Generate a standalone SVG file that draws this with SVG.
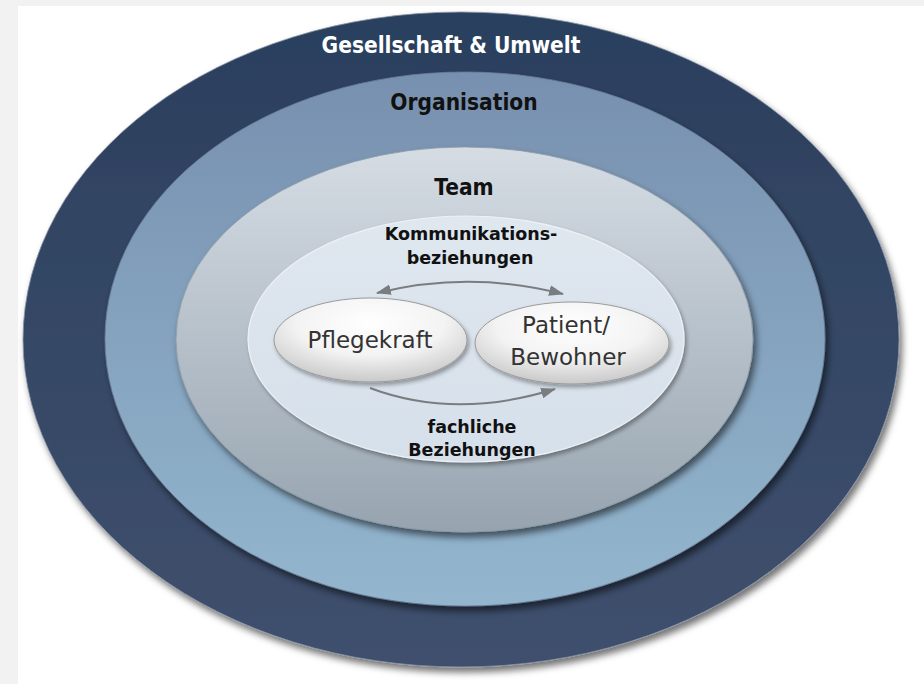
<svg xmlns="http://www.w3.org/2000/svg" width="924" height="684" viewBox="0 0 924 684">
  <defs>
    <style>
      .lbl { font-family: "DejaVu Sans Condensed", "DejaVu Sans", sans-serif; font-weight: bold; font-stretch: condensed; text-anchor: middle; }
      .rel { font-family: "DejaVu Sans", Verdana, sans-serif; font-weight: bold; font-size: 17.5px; fill: #111; text-anchor: middle; }
      .node { font-family: "DejaVu Sans", Verdana, sans-serif; font-size: 23px; fill: #333; text-anchor: middle; }
      .conn { fill: none; stroke: #7a7d80; stroke-width: 2; }
    </style>
    <linearGradient id="gOuter" x1="0" y1="0" x2="0" y2="1">
      <stop offset="0" stop-color="#2b3f5e"/>
      <stop offset="1" stop-color="#3f506d"/>
    </linearGradient>
    <linearGradient id="gOrg" x1="0" y1="0" x2="0" y2="1">
      <stop offset="0" stop-color="#7790af"/>
      <stop offset="1" stop-color="#93b6ce"/>
    </linearGradient>
    <linearGradient id="gTeam" x1="0" y1="0" x2="0" y2="1">
      <stop offset="0" stop-color="#d5dce4"/>
      <stop offset="1" stop-color="#97a4af"/>
    </linearGradient>
    <linearGradient id="gInner" x1="0" y1="0" x2="0" y2="1">
      <stop offset="0" stop-color="#dfe7ef"/>
      <stop offset="1" stop-color="#d6e0ea"/>
    </linearGradient>
    <radialGradient id="gNode" cx="0.5" cy="0.3" r="0.7">
      <stop offset="0" stop-color="#ffffff"/>
      <stop offset="0.55" stop-color="#f3f3f3"/>
      <stop offset="1" stop-color="#c9c9c9"/>
    </radialGradient>
    <filter id="shadow" x="-10%" y="-10%" width="125%" height="125%">
      <feDropShadow dx="3" dy="5" stdDeviation="3.5" flood-color="#000" flood-opacity="0.55"/>
    </filter>
    <filter id="shadowS" x="-10%" y="-10%" width="125%" height="130%">
      <feDropShadow dx="2" dy="3" stdDeviation="2" flood-color="#000" flood-opacity="0.35"/>
    </filter>
    <marker id="arrow" viewBox="0 0 14 10" refX="13" refY="5" markerWidth="15" markerHeight="11" markerUnits="userSpaceOnUse" orient="auto-start-reverse">
      <path d="M0,0 L14,5 L0,10 z" fill="#7a7d80"/>
    </marker>
  </defs>

  <rect x="0" y="0" width="924" height="684" fill="#f2f2f2"/>
  <rect x="18" y="6" width="906" height="678" fill="#ffffff"/>

  <g id="gesellschaft">
    <ellipse cx="461" cy="339.5" rx="438" ry="327.5" fill="url(#gOuter)" stroke="#8a96a6" stroke-width="0.8" filter="url(#shadow)"/>
    <text class="lbl" x="451" y="53" font-size="22.5" fill="#ffffff">Gesellschaft &amp; Umwelt</text>
  </g>

  <g id="organisation">
    <ellipse cx="465" cy="339" rx="360" ry="267" fill="url(#gOrg)" stroke="#6a7e98" stroke-width="0.8" filter="url(#shadow)"/>
    <text class="lbl" x="464" y="110" font-size="22.5" fill="#111">Organisation</text>
  </g>

  <g id="team">
    <ellipse cx="464.5" cy="339.5" rx="288.5" ry="192.5" fill="url(#gTeam)" stroke="#8c9aa6" stroke-width="0.8" filter="url(#shadow)"/>
    <text class="lbl" x="464" y="195" font-size="22.5" fill="#111">Team</text>
  </g>

  <g id="beziehungen">
    <ellipse cx="466" cy="339" rx="218" ry="123" fill="url(#gInner)" stroke="#eef2f6" stroke-width="1.2" filter="url(#shadowS)"/>
    <text class="rel" x="471" y="240">Kommunikations-</text>
    <text class="rel" x="470" y="264">beziehungen</text>
    <text class="rel" x="472" y="433">fachliche</text>
    <text class="rel" x="472" y="456">Beziehungen</text>
  </g>

  <g id="pflegekraft">
    <ellipse cx="370.5" cy="340" rx="96.5" ry="42" fill="url(#gNode)" stroke="#9a9a9a" stroke-width="1" filter="url(#shadowS)"/>
    <text class="node" x="370" y="348">Pflegekraft</text>
  </g>

  <g id="patient">
    <ellipse cx="572" cy="343" rx="97" ry="41" fill="url(#gNode)" stroke="#9a9a9a" stroke-width="1" filter="url(#shadowS)"/>
    <text class="node" x="566" y="333">Patient/</text>
    <text class="node" x="568" y="365">Bewohner</text>
  </g>

  <g id="connectors">
    <path class="conn" d="M377,293 Q470,270 563,294" marker-start="url(#arrow)" marker-end="url(#arrow)"/>
    <path class="conn" d="M370,388 Q455,420 555,389" marker-end="url(#arrow)"/>
  </g>
</svg>
